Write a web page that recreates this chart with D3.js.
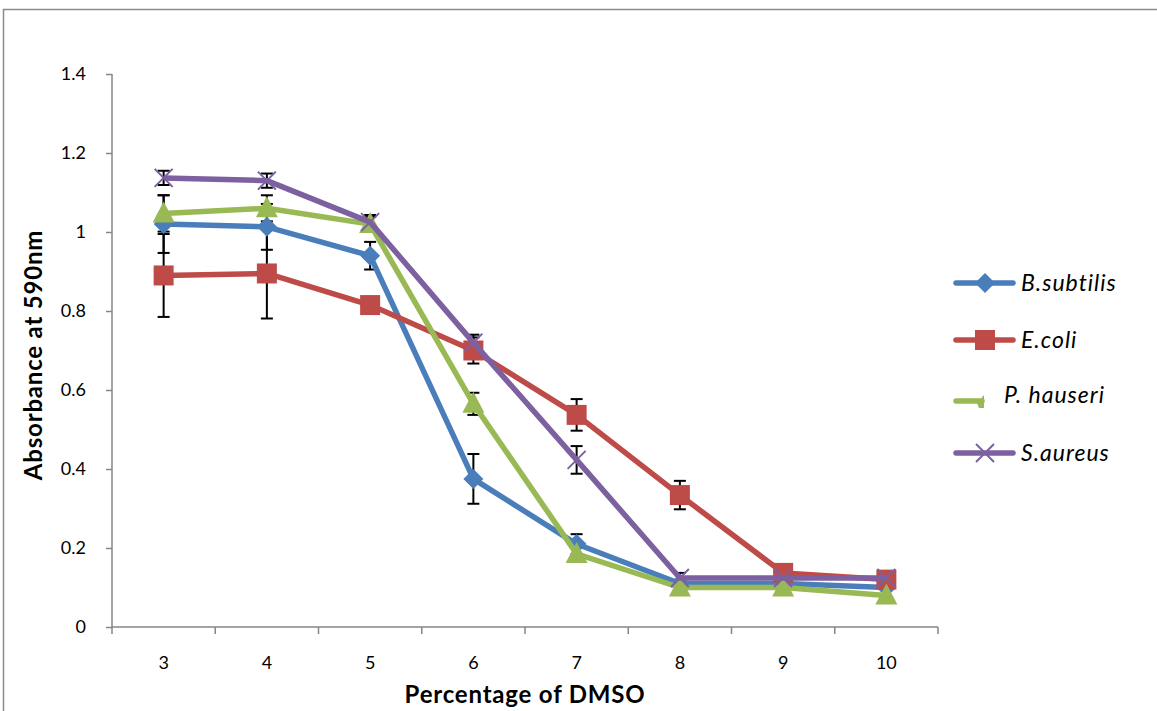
<!DOCTYPE html>
<html>
<head>
<meta charset="utf-8">
<script src="https://cdn.jsdelivr.net/npm/d3@7"></script>
<style>
  body { margin: 0; background: #fff; }
  svg { display: block; font-family: Lato, "Open Sans", sans-serif; }
</style>
</head>
<body>
<svg id="chart" width="1157" height="711"></svg>
<script>
// data
var dmso = [3, 4, 5, 6, 7, 8, 9, 10];
var yTicks = [0, 0.2, 0.4, 0.6, 0.8, 1, 1.2, 1.4];

var bSubtilis = [1.02, 1.013, 0.94, 0.375, 0.21, 0.11, 0.11, 0.10];
var eColi     = [0.89, 0.895, 0.815, 0.70, 0.537, 0.334, 0.137, 0.12];
var pHauseri  = [1.047, 1.06, 1.02, 0.565, 0.185, 0.10, 0.10, 0.08];
var sAureus   = [1.137, 1.13, 1.025, 0.72, 0.423, 0.124, 0.124, 0.124];

var bSubtilisErr = [0.073, 0.058, 0.035, 0.063, 0.025, 0, 0, 0];
var eColiErr     = [0.105, 0.114, 0, 0.033, 0.04, 0.036, 0, 0.02];
var pHauseriErr  = [0.046, 0.033, 0.018, 0.028, 0, 0, 0, 0];
var sAureusErr   = [0.018, 0.018, 0.018, 0.02, 0.035, 0.013, 0, 0];

var series = [
  {name: "B.subtilis", values: bSubtilis, err: bSubtilisErr, color: "#4a7ebb", marker: "diamond"},
  {name: "E.coli", values: eColi, err: eColiErr, color: "#be4b48", marker: "square"},
  {name: "P. hauseri", values: pHauseri, err: pHauseriErr, color: "#98b954", marker: "triangle"},
  {name: "S.aureus", values: sAureus, err: sAureusErr, color: "#7d60a0", marker: "cross"}
];

var svg = d3.select("#chart");

var margins = {left: 112, right: 1157 - 938, top: 74, bottom: 711 - 627};
var width = 1157 - margins.left - margins.right;
var height = 711 - margins.top - margins.bottom;

// outer frame
svg.append("rect")
  .attr("x", 3.5).attr("y", 9.5)
  .attr("width", 1170).attr("height", 720)
  .attr("fill", "none")
  .attr("stroke", "#8c8c8c")
  .attr("stroke-width", 1.5);

var x = d3.scaleBand().domain(dmso).range([0, width]);
var y = d3.scaleLinear().domain([0, 1.4]).range([height, 0]);

var g = svg.append("g").attr("transform", "translate(" + margins.left + "," + margins.top + ")");

// y axis
var yAxis = g.append("g").call(d3.axisLeft(y).tickValues(yTicks).tickSize(6).tickPadding(20)
  .tickFormat(d => d === 0 ? "0" : d3.format("")(+d.toFixed(1))));
yAxis.selectAll("line, path").attr("stroke", "#868686").attr("stroke-width", 1.5);
yAxis.select(".domain").attr("d", "M0," + height + "V0");
yAxis.selectAll("text").attr("font-size", 18).attr("fill", "#000")
  .attr("font-family", "Lato, sans-serif");

// x axis with ticks between categories
var xg = g.append("g").attr("transform", "translate(0," + height + ")");
xg.append("line").attr("x1", 0).attr("x2", width)
  .attr("stroke", "#868686").attr("stroke-width", 1.5);
var bounds = dmso.map(d => x(d)).concat([width]);
xg.selectAll(".tk").data(bounds).enter().append("line")
  .attr("x1", d => d).attr("x2", d => d).attr("y1", 0).attr("y2", 7)
  .attr("stroke", "#868686").attr("stroke-width", 1.5);
xg.selectAll(".lbl").data(dmso).enter().append("text")
  .attr("x", d => x(d) + x.bandwidth() / 2)
  .attr("y", 42)
  .attr("text-anchor", "middle")
  .attr("font-size", 18)
  .text(d => d);

// axis titles
svg.append("text")
  .attr("x", 525).attr("y", 703)
  .attr("text-anchor", "middle")
  .attr("font-size", 24).attr("font-weight", "bold")
  .attr("letter-spacing", 0.8)
  .text("Percentage of DMSO");
svg.append("text")
  .attr("transform", "translate(42,355) rotate(-90)")
  .attr("text-anchor", "middle")
  .attr("font-size", 24).attr("font-weight", "bold")
  .attr("letter-spacing", 0.8)
  .text("Absorbance at 590nm");

var cx = d => x(d) + x.bandwidth() / 2;

// error bars
series.forEach(function (s) {
  var eb = g.append("g");
  dmso.forEach(function (d, i) {
    var e = s.err[i];
    if (!e) return;
    var yt = y(s.values[i] + e), yb = y(s.values[i] - e);
    eb.append("line").attr("x1", cx(d)).attr("x2", cx(d)).attr("y1", yt).attr("y2", yb)
      .attr("stroke", "#000").attr("stroke-width", 2);
    [yt, yb].forEach(function (yy) {
      eb.append("line").attr("x1", cx(d) - 6).attr("x2", cx(d) + 6).attr("y1", yy).attr("y2", yy)
        .attr("stroke", "#000").attr("stroke-width", 2);
    });
  });
});

function drawMarker(sel, type, color, px, py) {
  if (type === "diamond") {
    sel.append("path")
      .attr("d", "M" + px + "," + (py - 10) + "L" + (px + 10) + "," + py + "L" + px + "," + (py + 10) + "L" + (px - 10) + "," + py + "Z")
      .attr("fill", color);
  } else if (type === "square") {
    sel.append("rect").attr("x", px - 10).attr("y", py - 10).attr("width", 20).attr("height", 20)
      .attr("fill", color);
  } else if (type === "triangle") {
    sel.append("path")
      .attr("d", "M" + px + "," + (py - 12) + "L" + (px + 11) + "," + (py + 9) + "L" + (px - 11) + "," + (py + 9) + "Z")
      .attr("fill", color);
  } else {
    sel.append("path")
      .attr("d", "M" + (px - 9) + "," + (py - 9) + "L" + (px + 9) + "," + (py + 9) + "M" + (px + 9) + "," + (py - 9) + "L" + (px - 9) + "," + (py + 9))
      .attr("stroke", color).attr("stroke-width", 2).attr("fill", "none");
  }
}

var line = d3.line().x((d, i) => cx(dmso[i])).y(d => y(d));

series.forEach(function (s) {
  var sg = g.append("g");
  sg.append("path").datum(s.values)
    .attr("d", line)
    .attr("fill", "none")
    .attr("stroke", s.color)
    .attr("stroke-width", 5.5)
    .attr("stroke-linejoin", "round");
  s.values.forEach(function (v, i) {
    drawMarker(sg, s.marker, s.color, cx(dmso[i]), y(v));
  });
});

// legend
var legY = [283, 340, 395, 453];
var leg = svg.append("g");
series.forEach(function (s, i) {
  var ly = legY[i];
  if (s.marker === "triangle") {
    leg.append("line").attr("x1", 956).attr("x2", 982).attr("y1", ly + 6).attr("y2", ly + 6)
      .attr("stroke", s.color).attr("stroke-width", 5.5).attr("stroke-linecap", "round");
    leg.append("path").attr("d", "M979," + (ly + 13) + "L984," + (ly + 13) + "L984," + ly + "L977," + (ly + 8) + "Z")
      .attr("fill", s.color);
    leg.append("text").attr("x", 1004).attr("y", ly + 8)
      .attr("font-size", 23).attr("font-style", "italic").attr("letter-spacing", 1).text(s.name);
  } else {
    leg.append("line").attr("x1", 956).attr("x2", 1013).attr("y1", ly).attr("y2", ly)
      .attr("stroke", s.color).attr("stroke-width", 5.5).attr("stroke-linecap", "round");
    drawMarker(leg, s.marker, s.color, 985, ly);
    leg.append("text").attr("x", 1021).attr("y", ly + 8)
      .attr("font-size", 23).attr("font-style", "italic").attr("letter-spacing", 1).text(s.name);
  }
});
</script>
</body>
</html>
